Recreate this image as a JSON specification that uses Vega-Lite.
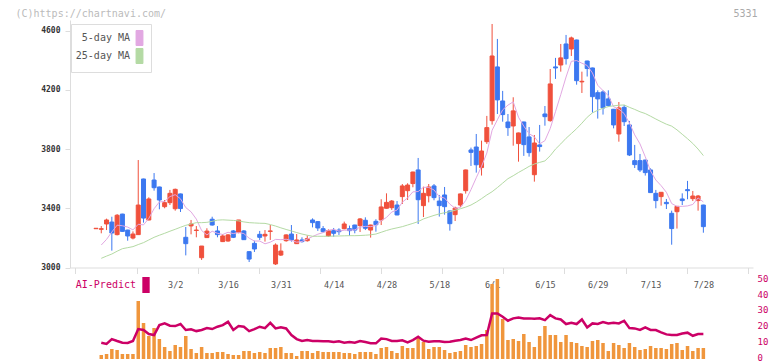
{
  "$schema": "https://vega.github.io/schema/vega-lite/v6.json",
  "width": 683,
  "height": 339,
  "autosize": {"type": "none"},
  "padding": {"left": 70, "top": 20, "right": 19, "bottom": 2},
  "background": "#ffffff",
  "config": {"view": {"stroke": null}, "font": "DejaVu Sans Mono"},
  "data": {
    "values": [
      {"i":0,"o":3262,"h":3265,"l":3262,"c":3265,"v":null,"ai":null,"m5":null,"m25":null},
      {"i":1,"o":3258,"h":3280,"l":3231,"c":3262,"v":20,"ai":9.1,"m5":3152,"m25":3062},
      {"i":2,"o":3294,"h":3330,"l":3253,"c":3321,"v":25,"ai":8.3,"m5":3190,"m25":3077},
      {"i":3,"o":3307,"h":3343,"l":3114,"c":3233,"v":50,"ai":11.4,"m5":3240,"m25":3091},
      {"i":4,"o":3222,"h":3361,"l":3217,"c":3353,"v":45,"ai":10.2,"m5":3286,"m25":3110},
      {"i":5,"o":3361,"h":3363,"l":3242,"c":3244,"v":25,"ai":9.1,"m5":3282,"m25":3127},
      {"i":6,"o":3253,"h":3255,"l":3181,"c":3213,"v":25,"ai":8.9,"m5":3273,"m25":3134},
      {"i":7,"o":3199,"h":3244,"l":3190,"c":3226,"v":25,"ai":10.2,"m5":3254,"m25":3141},
      {"i":8,"o":3222,"h":3726,"l":3220,"c":3422,"v":290,"ai":17.8,"m5":3292,"m25":3155},
      {"i":9,"o":3598,"h":3600,"l":3303,"c":3334,"v":180,"ai":17.2,"m5":3288,"m25":3168},
      {"i":10,"o":3321,"h":3474,"l":3319,"c":3463,"v":115,"ai":14.6,"m5":3332,"m25":3186},
      {"i":11,"o":3591,"h":3638,"l":3519,"c":3539,"v":155,"ai":14.0,"m5":3397,"m25":3204},
      {"i":12,"o":3544,"h":3546,"l":3393,"c":3456,"v":100,"ai":20.3,"m5":3443,"m25":3218},
      {"i":13,"o":3411,"h":3456,"l":3400,"c":3438,"v":60,"ai":21.4,"m5":3446,"m25":3231},
      {"i":14,"o":3438,"h":3524,"l":3422,"c":3501,"v":40,"ai":19.9,"m5":3479,"m25":3245},
      {"i":15,"o":3397,"h":3533,"l":3384,"c":3528,"v":70,"ai":19.7,"m5":3492,"m25":3258},
      {"i":16,"o":3497,"h":3499,"l":3375,"c":3398,"v":60,"ai":21.0,"m5":3464,"m25":3272},
      {"i":17,"o":3204,"h":3274,"l":3082,"c":3161,"v":115,"ai":17.2,"m5":3405,"m25":3285},
      {"i":18,"o":3281,"h":3321,"l":3224,"c":3294,"v":50,"ai":17.6,"m5":3376,"m25":3294},
      {"i":19,"o":3250,"h":3280,"l":3204,"c":3253,"v":30,"ai":16.5,"m5":3327,"m25":3303},
      {"i":20,"o":3066,"h":3145,"l":3051,"c":3145,"v":60,"ai":17.2,"m5":3250,"m25":3303},
      {"i":21,"o":3202,"h":3265,"l":3200,"c":3246,"v":30,"ai":18.4,"m5":3220,"m25":3305},
      {"i":22,"o":3326,"h":3343,"l":3283,"c":3287,"v":30,"ai":17.8,"m5":3245,"m25":3312},
      {"i":23,"o":3247,"h":3280,"l":3204,"c":3222,"v":35,"ai":19.3,"m5":3231,"m25":3320},
      {"i":24,"o":3175,"h":3226,"l":3172,"c":3213,"v":35,"ai":20.3,"m5":3223,"m25":3322},
      {"i":25,"o":3179,"h":3226,"l":3174,"c":3220,"v":25,"ai":22.4,"m5":3238,"m25":3320},
      {"i":26,"o":3247,"h":3253,"l":3199,"c":3204,"v":20,"ai":17.2,"m5":3229,"m25":3318},
      {"i":27,"o":3238,"h":3321,"l":3231,"c":3321,"v":20,"ai":19.7,"m5":3236,"m25":3315},
      {"i":28,"o":3247,"h":3253,"l":3186,"c":3188,"v":40,"ai":19.3,"m5":3229,"m25":3308},
      {"i":29,"o":3107,"h":3109,"l":3037,"c":3057,"v":40,"ai":16.5,"m5":3198,"m25":3303},
      {"i":30,"o":3163,"h":3181,"l":3105,"c":3125,"v":30,"ai":17.8,"m5":3179,"m25":3301},
      {"i":31,"o":3224,"h":3247,"l":3186,"c":3204,"v":35,"ai":19.3,"m5":3179,"m25":3299},
      {"i":32,"o":3213,"h":3253,"l":3175,"c":3224,"v":30,"ai":18.4,"m5":3160,"m25":3298},
      {"i":33,"o":3244,"h":3287,"l":3186,"c":3247,"v":55,"ai":21.8,"m5":3171,"m25":3290},
      {"i":34,"o":3024,"h":3163,"l":3017,"c":3152,"v":55,"ai":18.2,"m5":3190,"m25":3280},
      {"i":35,"o":3084,"h":3163,"l":3078,"c":3111,"v":60,"ai":19.0,"m5":3188,"m25":3268},
      {"i":36,"o":3181,"h":3224,"l":3174,"c":3220,"v":30,"ai":18.2,"m5":3191,"m25":3257},
      {"i":37,"o":3226,"h":3287,"l":3175,"c":3186,"v":30,"ai":14.0,"m5":3183,"m25":3247},
      {"i":38,"o":3161,"h":3226,"l":3159,"c":3186,"v":15,"ai":11.4,"m5":3171,"m25":3236},
      {"i":39,"o":3186,"h":3204,"l":3168,"c":3175,"v":40,"ai":10.2,"m5":3176,"m25":3226},
      {"i":40,"o":3181,"h":3217,"l":3175,"c":3195,"v":40,"ai":10.8,"m5":3192,"m25":3218},
      {"i":41,"o":3321,"h":3332,"l":3271,"c":3303,"v":30,"ai":10.2,"m5":3209,"m25":3211},
      {"i":42,"o":3310,"h":3312,"l":3247,"c":3267,"v":40,"ai":10.2,"m5":3225,"m25":3211},
      {"i":43,"o":3262,"h":3280,"l":3235,"c":3242,"v":35,"ai":10.0,"m5":3236,"m25":3211},
      {"i":44,"o":3213,"h":3258,"l":3208,"c":3249,"v":35,"ai":10.0,"m5":3251,"m25":3211},
      {"i":45,"o":3249,"h":3267,"l":3208,"c":3231,"v":35,"ai":9.5,"m5":3258,"m25":3212},
      {"i":46,"o":3253,"h":3265,"l":3220,"c":3242,"v":35,"ai":10.0,"m5":3246,"m25":3213},
      {"i":47,"o":3262,"h":3310,"l":3258,"c":3294,"v":30,"ai":9.1,"m5":3252,"m25":3214},
      {"i":48,"o":3262,"h":3283,"l":3215,"c":3249,"v":30,"ai":9.5,"m5":3253,"m25":3215},
      {"i":49,"o":3287,"h":3289,"l":3231,"c":3253,"v":25,"ai":9.1,"m5":3254,"m25":3215},
      {"i":50,"o":3283,"h":3334,"l":3240,"c":3328,"v":35,"ai":10.2,"m5":3273,"m25":3216},
      {"i":51,"o":3319,"h":3339,"l":3253,"c":3265,"v":35,"ai":9.5,"m5":3278,"m25":3218},
      {"i":52,"o":3253,"h":3289,"l":3202,"c":3287,"v":35,"ai":8.7,"m5":3276,"m25":3221},
      {"i":53,"o":3312,"h":3326,"l":3242,"c":3289,"v":25,"ai":8.7,"m5":3284,"m25":3226},
      {"i":54,"o":3321,"h":3461,"l":3287,"c":3409,"v":55,"ai":11.8,"m5":3316,"m25":3238},
      {"i":55,"o":3400,"h":3501,"l":3398,"c":3440,"v":60,"ai":11.4,"m5":3338,"m25":3250},
      {"i":56,"o":3404,"h":3456,"l":3389,"c":3449,"v":40,"ai":10.2,"m5":3375,"m25":3260},
      {"i":57,"o":3422,"h":3449,"l":3353,"c":3355,"v":30,"ai":10.2,"m5":3388,"m25":3268},
      {"i":58,"o":3479,"h":3564,"l":3429,"c":3551,"v":65,"ai":10.6,"m5":3441,"m25":3276},
      {"i":59,"o":3519,"h":3569,"l":3456,"c":3557,"v":55,"ai":9.3,"m5":3470,"m25":3287},
      {"i":60,"o":3567,"h":3647,"l":3542,"c":3645,"v":55,"ai":10.8,"m5":3511,"m25":3298},
      {"i":61,"o":3659,"h":3740,"l":3294,"c":3458,"v":105,"ai":12.9,"m5":3513,"m25":3310},
      {"i":62,"o":3418,"h":3546,"l":3341,"c":3501,"v":85,"ai":10.4,"m5":3542,"m25":3328},
      {"i":63,"o":3485,"h":3564,"l":3440,"c":3544,"v":50,"ai":9.7,"m5":3541,"m25":3340},
      {"i":64,"o":3551,"h":3564,"l":3454,"c":3472,"v":60,"ai":10.0,"m5":3524,"m25":3352},
      {"i":65,"o":3449,"h":3490,"l":3344,"c":3418,"v":60,"ai":10.0,"m5":3479,"m25":3362},
      {"i":66,"o":3490,"h":3544,"l":3357,"c":3411,"v":45,"ai":9.5,"m5":3469,"m25":3370},
      {"i":67,"o":3382,"h":3384,"l":3249,"c":3296,"v":30,"ai":9.7,"m5":3428,"m25":3377},
      {"i":68,"o":3357,"h":3411,"l":3314,"c":3402,"v":35,"ai":10.4,"m5":3400,"m25":3387},
      {"i":69,"o":3422,"h":3499,"l":3409,"c":3497,"v":40,"ai":10.8,"m5":3405,"m25":3397},
      {"i":70,"o":3519,"h":3661,"l":3499,"c":3659,"v":70,"ai":11.7,"m5":3453,"m25":3408},
      {"i":71,"o":3794,"h":3810,"l":3686,"c":3778,"v":60,"ai":10.8,"m5":3526,"m25":3422},
      {"i":72,"o":3814,"h":3902,"l":3641,"c":3694,"v":65,"ai":12.3,"m5":3606,"m25":3442},
      {"i":73,"o":3675,"h":3857,"l":3621,"c":3787,"v":75,"ai":13.8,"m5":3683,"m25":3465},
      {"i":74,"o":3850,"h":4024,"l":3835,"c":3945,"v":145,"ai":14.0,"m5":3773,"m25":3490},
      {"i":75,"o":3992,"h":4645,"l":3965,"c":4429,"v":375,"ai":27.7,"m5":3927,"m25":3512},
      {"i":76,"o":4355,"h":4544,"l":4037,"c":4132,"v":400,"ai":27.7,"m5":3998,"m25":3540},
      {"i":77,"o":4125,"h":4193,"l":3985,"c":4033,"v":200,"ai":25.6,"m5":4065,"m25":3570},
      {"i":78,"o":3983,"h":4037,"l":3889,"c":3945,"v":95,"ai":23.1,"m5":4097,"m25":3600},
      {"i":79,"o":3956,"h":4150,"l":3823,"c":4058,"v":100,"ai":24.6,"m5":4119,"m25":3620},
      {"i":80,"o":3837,"h":3911,"l":3715,"c":3909,"v":90,"ai":25.2,"m5":4015,"m25":3642},
      {"i":81,"o":3983,"h":3985,"l":3754,"c":3830,"v":125,"ai":24.6,"m5":3955,"m25":3662},
      {"i":82,"o":3882,"h":3949,"l":3749,"c":3776,"v":85,"ai":24.6,"m5":3904,"m25":3683},
      {"i":83,"o":3627,"h":3895,"l":3580,"c":3841,"v":60,"ai":24.3,"m5":3883,"m25":3699},
      {"i":84,"o":3828,"h":3963,"l":3783,"c":3817,"v":115,"ai":24.6,"m5":3835,"m25":3710},
      {"i":85,"o":4037,"h":4091,"l":3958,"c":4019,"v":165,"ai":23.5,"m5":3857,"m25":3720},
      {"i":86,"o":3992,"h":4341,"l":3985,"c":4240,"v":120,"ai":26.7,"m5":3939,"m25":3755},
      {"i":87,"o":4355,"h":4416,"l":4274,"c":4348,"v":120,"ai":24.6,"m5":4053,"m25":3800},
      {"i":88,"o":4368,"h":4510,"l":4323,"c":4416,"v":85,"ai":23.9,"m5":4168,"m25":3835},
      {"i":89,"o":4510,"h":4571,"l":4371,"c":4411,"v":120,"ai":21.0,"m5":4287,"m25":3873},
      {"i":90,"o":4476,"h":4560,"l":4429,"c":4551,"v":85,"ai":21.8,"m5":4393,"m25":3905},
      {"i":91,"o":4537,"h":4539,"l":4235,"c":4262,"v":80,"ai":21.0,"m5":4398,"m25":3938},
      {"i":92,"o":4254,"h":4323,"l":4179,"c":4258,"v":65,"ai":23.9,"m5":4380,"m25":3975},
      {"i":93,"o":4395,"h":4397,"l":4290,"c":4344,"v":60,"ai":18.8,"m5":4365,"m25":4015},
      {"i":94,"o":4348,"h":4350,"l":4046,"c":4154,"v":90,"ai":21.4,"m5":4314,"m25":4045},
      {"i":95,"o":4181,"h":4197,"l":4006,"c":4139,"v":95,"ai":21.0,"m5":4231,"m25":4062},
      {"i":96,"o":4186,"h":4197,"l":4033,"c":4078,"v":80,"ai":22.2,"m5":4195,"m25":4076},
      {"i":97,"o":4139,"h":4197,"l":4087,"c":4094,"v":40,"ai":21.4,"m5":4162,"m25":4087},
      {"i":98,"o":4069,"h":4071,"l":3940,"c":3963,"v":80,"ai":21.8,"m5":4086,"m25":4092},
      {"i":99,"o":3902,"h":4118,"l":3850,"c":4078,"v":70,"ai":21.4,"m5":4070,"m25":4096},
      {"i":100,"o":4082,"h":4098,"l":3956,"c":3985,"v":55,"ai":23.1,"m5":4040,"m25":4098},
      {"i":101,"o":3963,"h":3990,"l":3753,"c":3760,"v":80,"ai":18.4,"m5":3976,"m25":4082},
      {"i":102,"o":3722,"h":3828,"l":3672,"c":3695,"v":60,"ai":18.2,"m5":3896,"m25":4068},
      {"i":103,"o":3722,"h":3767,"l":3645,"c":3659,"v":45,"ai":17.2,"m5":3835,"m25":4052},
      {"i":104,"o":3726,"h":3728,"l":3621,"c":3641,"v":50,"ai":18.8,"m5":3748,"m25":4040},
      {"i":105,"o":3659,"h":3670,"l":3504,"c":3506,"v":65,"ai":17.2,"m5":3652,"m25":4022},
      {"i":106,"o":3501,"h":3524,"l":3400,"c":3452,"v":55,"ai":17.2,"m5":3591,"m25":4003},
      {"i":107,"o":3479,"h":3510,"l":3418,"c":3508,"v":55,"ai":15.7,"m5":3553,"m25":3985},
      {"i":108,"o":3440,"h":3463,"l":3395,"c":3431,"v":50,"ai":14.4,"m5":3508,"m25":3968},
      {"i":109,"o":3366,"h":3384,"l":3154,"c":3263,"v":75,"ai":14.0,"m5":3432,"m25":3955},
      {"i":110,"o":3377,"h":3415,"l":3263,"c":3413,"v":80,"ai":14.0,"m5":3413,"m25":3930},
      {"i":111,"o":3463,"h":3501,"l":3422,"c":3452,"v":45,"ai":15.0,"m5":3413,"m25":3900},
      {"i":112,"o":3526,"h":3585,"l":3461,"c":3519,"v":65,"ai":15.5,"m5":3416,"m25":3870},
      {"i":113,"o":3465,"h":3517,"l":3449,"c":3483,"v":40,"ai":13.5,"m5":3426,"m25":3838},
      {"i":114,"o":3452,"h":3490,"l":3384,"c":3483,"v":55,"ai":14.6,"m5":3470,"m25":3800},
      {"i":115,"o":3422,"h":3424,"l":3235,"c":3276,"v":55,"ai":14.6,"m5":3443,"m25":3756}
    ]
  },
  "layer": [
    {
      "encoding": {
        "x": {
          "field": "i",
          "type": "quantitative",
          "scale": {"domain": [-3.974, 123.45], "nice": false, "zero": false},
          "axis": {
            "orient": "bottom",
            "offset": -91.5,
            "values": [-3.88, 7.69, 19.26, 30.83, 42.4, 53.98, 65.55, 77.12, 88.69, 100.26, 111.83, 123.4],
            "labels": false,
            "grid": false,
            "title": null,
            "domainColor": "#dddddd",
            "tickColor": "#dddddd",
            "tickSize": 6
          }
        }
      },
      "layer": [
        {
          "mark": {"type": "rule", "strokeWidth": 1},
          "encoding": {
            "y": {
              "field": "l",
              "type": "quantitative",
              "scale": {"domain": [3000, 4672], "range": [247.5, 0], "nice": false, "zero": false},
              "axis": {
                "orient": "left",
                "values": [3000, 3400, 3800, 4200, 4600],
                "format": "d",
                "grid": false,
                "domainColor": "#dddddd",
                "tickColor": "#dddddd",
                "tickSize": 5,
                "labelPadding": 5,
                "labelFont": "DejaVu Sans Mono",
                "labelFontSize": 8,
                "labelFontWeight": "bold",
                "labelColor": "#333333",
                "title": "(C)https://chartnavi.com/",
                "titleAngle": 0,
                "titleX": -55,
                "titleY": -7,
                "titleAlign": "left",
                "titleBaseline": "middle",
                "titleFont": "DejaVu Sans Mono",
                "titleFontSize": 10,
                "titleFontWeight": "normal",
                "titleColor": "#bbbbbb"
              }
            },
            "y2": {"field": "h"},
            "color": {"condition": {"test": "datum.c > datum.o", "value": "#f0503c"}, "value": "#3c78f0"}
          }
        },
        {
          "mark": {"type": "bar", "size": 4, "strokeWidth": 1},
          "encoding": {
            "y": {"field": "o", "type": "quantitative", "scale": {"domain": [3000, 4672], "range": [247.5, 0], "nice": false, "zero": false}},
            "y2": {"field": "c"},
            "color": {"condition": {"test": "datum.c > datum.o", "value": "#f0503c"}, "value": "#3c78f0"},
            "stroke": {"condition": {"test": "datum.c > datum.o", "value": "#f0503c"}, "value": "#3c78f0"}
          }
        },
        {
          "transform": [{"fold": ["m5", "m25"], "as": ["series", "val"]}],
          "mark": {"type": "line", "strokeWidth": 1},
          "encoding": {
            "y": {"field": "val", "type": "quantitative", "scale": {"domain": [3000, 4672], "range": [247.5, 0], "nice": false, "zero": false}},
            "stroke": {
              "field": "series",
              "type": "nominal",
              "scale": {"domain": ["m5", "m25"], "range": ["#e2a8e2", "#b4daa4"]},
              "legend": {
                "orient": "none",
                "legendX": 1,
                "legendY": 4,
                "title": null,
                "direction": "vertical",
                "padding": 6,
                "strokeColor": "#dddddd",
                "fillColor": "#ffffff",
                "labelFont": "DejaVu Sans Mono",
                "labelFontSize": 10,
                "labelColor": "#555555",
                "labelAlign": "right",
                "labelOffset": -17.5,
                "symbolOffset": 54.5,
                "symbolType": "M-0.46,-1H0.46V1H-0.46Z",
                "symbolSize": 225,
                "symbolStrokeWidth": 1,
                "rowPadding": -2,
                "labelExpr": "datum.label == 'm5' ? '5-day MA' : '25-day MA'",
                "encode": {
                  "symbols": {
                    "update": {
                      "fill": {"scale": "stroke", "field": "value"},
                      "stroke": {"value": "#666666"},
                      "strokeWidth": {"value": 1}
                    }
                  },
                  "entries": {
                    "update": {"y": {"value": 1}}
                  }
                }
              }
            }
          }
        }
      ]
    },
    {
      "encoding": {
        "x": {
          "field": "i",
          "type": "quantitative",
          "scale": {"domain": [-3.974, 123.45], "nice": false, "zero": false},
          "axis": {
            "orient": "bottom",
            "offset": -80,
            "values": [15, 25, 35, 45, 55, 65, 75, 85, 95, 105, 115],
            "labelExpr": "['3/2','3/16','3/31','4/14','4/28','5/18','6/1','6/15','6/29','7/13','7/28'][round((datum.value - 15) / 10)]",
            "domain": false,
            "ticks": false,
            "grid": false,
            "title": null,
            "labelPadding": 1,
            "labelOverlap": false,
            "labelFlush": false,
            "labelFont": "DejaVu Sans Mono",
            "labelFontSize": 8.5,
            "labelColor": "#555555"
          }
        }
      },
      "layer": [
        {
          "mark": {"type": "bar", "size": 3.5, "color": "#f0963c"},
          "encoding": {
            "y": {"field": "v", "type": "quantitative", "scale": {"domain": [0, 402.5], "range": [339, 258.5], "nice": false}, "axis": null}
          }
        },
        {
          "mark": {"type": "line", "strokeWidth": 2.5},
          "encoding": {
            "y": {
              "field": "ai",
              "type": "quantitative",
              "scale": {"domain": [0, 50], "range": [337, 258.5], "nice": false},
              "axis": {
                "orient": "right",
                "values": [0, 10, 20, 30, 40, 50],
                "domain": false,
                "ticks": false,
                "grid": false,
                "labelPadding": 4,
                "labelFont": "DejaVu Sans Mono",
                "labelFontSize": 9,
                "labelColor": "#cc0066",
                "title": "5331",
                "titleAngle": 0,
                "titleX": -8,
                "titleY": -7,
                "titleAlign": "center",
                "titleBaseline": "middle",
                "titleFont": "DejaVu Sans Mono",
                "titleFontSize": 10,
                "titleFontWeight": "normal",
                "titleColor": "#aaaaaa"
              }
            },
            "color": {
              "datum": "AI-Predict",
              "type": "nominal",
              "scale": {"domain": ["AI-Predict"], "range": ["#cc0066"]},
              "legend": {
                "orient": "none",
                "legendX": 6,
                "legendY": 257,
                "title": null,
                "padding": 0,
                "labelFont": "DejaVu Sans Mono",
                "labelFontSize": 10,
                "labelColor": "#cc0066",
                "labelAlign": "right",
                "labelOffset": -18,
                "symbolOffset": 62,
                "symbolType": "M-0.46,-1H0.46V1H-0.46Z",
                "symbolSize": 256,
                "symbolStrokeWidth": 0,
                "encode": {"symbols": {"update": {"fill": {"value": "#cc0066"}}}}
              }
            }
          }
        }
      ],
      "resolve": {"scale": {"y": "independent"}}
    }
  ],
  "resolve": {"scale": {"x": "independent", "y": "independent"}}
}
